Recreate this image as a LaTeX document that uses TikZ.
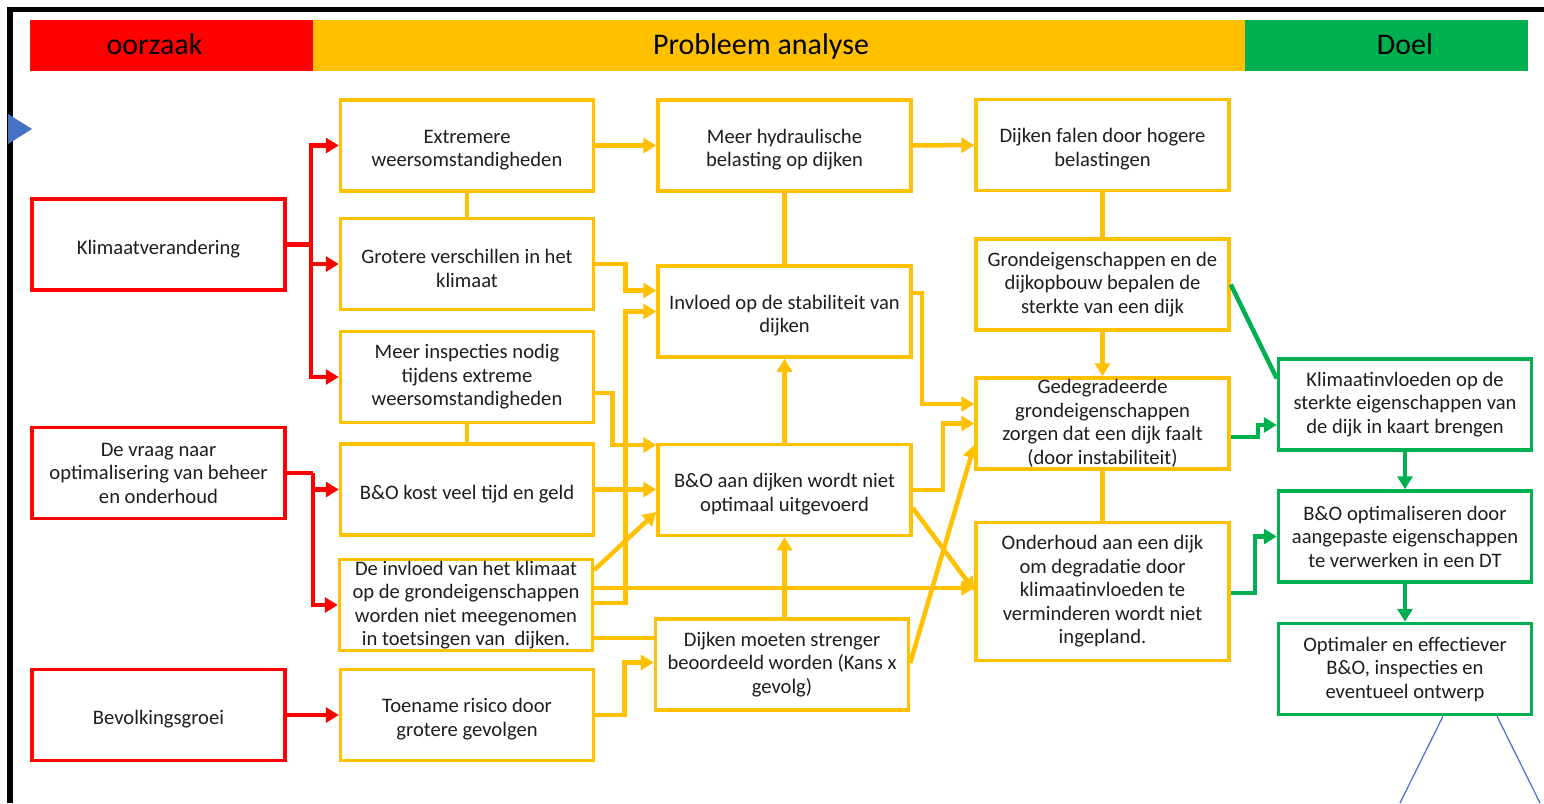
\documentclass[tikz,border=0pt]{standalone}
\usepackage{fontspec}
\setmainfont{Carlito}
\usetikzlibrary{arrows.meta}
\definecolor{oorzaakRed}{RGB}{255,0,0}
\definecolor{probleemYellow}{RGB}{255,192,0}
\definecolor{doelGreen}{RGB}{0,176,80}
\definecolor{pijlBlue}{RGB}{68,114,196}
\definecolor{tekstGrey}{RGB}{30,30,30}
\newcommand{\hoog}{\rule{0pt}{23pt}}

\begin{document}
\begin{tikzpicture}[x=1pt, y=-1pt, >={Triangle[length=13pt,width=15pt]}]
            \tikzstyle{blok} = [rectangle, draw, fill=white, line width=3.5pt, minimum width=253pt, minimum height=91pt, inner sep=0pt, align=center, text=tekstGrey, font=\fontsize{20.6}{23.5}\selectfont]
            \tikzstyle{oorzaakbox} = [blok, draw=oorzaakRed]
            \tikzstyle{probbox} = [blok, draw=probleemYellow]
            \tikzstyle{doelbox} = [blok, draw=doelGreen]
            \tikzstyle{kop} = [anchor=base, inner sep=0pt, font=\fontsize{30}{36}\selectfont]
            \tikzstyle{redline} = [line width=4.5pt, oorzaakRed]
            \tikzstyle{yellowline} = [line width=4.5pt, probleemYellow]
            \tikzstyle{greenline} = [line width=4.5pt, doelGreen]

            \useasboundingbox (0,0) rectangle (1544,803);

            % kader en kopbalk
            \draw[line width=5.5pt] (1544,9.5) -- (10,9.5) -- (10,803);
            \fill[pijlBlue] (8,114) -- (32,129) -- (8,144) -- cycle;
            \fill[oorzaakRed] (30,20) rectangle (313,71);
            \fill[probleemYellow] (313,20) rectangle (1245,71);
            \fill[doelGreen] (1245,20) rectangle (1528,71);
            \node[kop] (oorzaak) at (154.5,54) {oorzaak};
            \node[kop] (probleem) at (761,54) {Probleem analyse};
            \node[kop] (doel) at (1405,54) {Doel};

            % oorzaken
            \node[oorzaakbox] (klim) at (158.5,244.5) {\hoog Klimaatverandering};
            \node[oorzaakbox] (vraag) at (158.5,473) {De vraag naar\\optimalisering van beheer\\en onderhoud};
            \node[oorzaakbox] (bevo) at (158.5,715) {\hoog Bevolkingsgroei};

            % probleem analyse
            \node[probbox] (extr) at (467,145.5) {\hoog Extremere\\weersomstandigheden};
            \node[probbox] (grot) at (467,264) {\hoog Grotere verschillen in het\\klimaat};
            \node[probbox] (meer) at (467,377) {Meer inspecties nodig\\tijdens extreme\\weersomstandigheden};
            \node[probbox] (kost) at (467,489.5) {\hoog B\&O kost veel tijd en geld};
            \node[probbox] (invk) at (466,605) {De invloed van het klimaat\\op de grondeigenschappen\\worden niet meegenomen\\in toetsingen van\ \ dijken.};
            \node[probbox] (toen) at (467,715) {\hoog Toename risico door\\grotere gevolgen};

            \node[probbox] (hydr) at (784.5,145.5) {\hoog Meer hydraulische\\belasting op dijken};
            \node[probbox] (stab) at (784.5,311.5) {\hoog Invloed op de stabiliteit van\\dijken};
            \node[probbox] (bo) at (784.5,490) {\hoog B\&O aan dijken wordt niet\\optimaal uitgevoerd};
            \node[probbox] (stre) at (782,664.5) {Dijken moeten strenger\\beoordeeld worden (Kans x\\gevolg)};

            \node[probbox] (fale) at (1102.5,145) {\hoog Dijken falen door hogere\\belastingen};
            \node[probbox] (gron) at (1102.5,284.5) {Grondeigenschappen en de\\dijkopbouw bepalen de\\sterkte van een dijk};
            \node[probbox] (gede) at (1102.5,423.5) {Gedegradeerde\\grondeigenschappen\\zorgen dat een dijk faalt\\(door instabiliteit)};
            \node[probbox, minimum height=138pt] (onde) at (1102.5,591.5) {Onderhoud aan een dijk\\om degradatie door\\klimaatinvloeden te\\verminderen wordt niet\\ingepland.};

            % doel
            \node[doelbox] (kaar) at (1405,404.5) {Klimaatinvloeden op de\\sterkte eigenschappen van\\de dijk in kaart brengen};
            \node[doelbox] (opti) at (1405,536.5) {B\&O optimaliseren door\\aangepaste eigenschappen\\te verwerken in een DT};
            \node[doelbox] (effe) at (1405,669) {Optimaler en effectiever\\B\&O, inspecties en\\eventueel ontwerp};
            \coordinate (vrijL) at (1400,803);
            \coordinate (vrijR) at (1540,803);

            % rode pijlen
            \draw[redline] (klim.east) -- ++(24,0) coordinate (klimtak);
            \draw[->, redline] (klimtak) |- (extr.west);
            \draw[->, redline] (klimtak) |- (grot.west);
            \draw[->, redline] (klimtak) |- (meer.west);
            \draw[redline] (vraag.east) -- ++(26,0) coordinate (vraagtak);
            \draw[->, redline] (vraagtak) |- (kost.west);
            \draw[->, redline] (vraagtak) |- (invk.west);
            \draw[->, redline] (bevo) -- (toen);

            % gele pijlen
            \draw[yellowline] (extr) -- (grot);
            \draw[yellowline] (meer) -- (kost);
            \draw[yellowline] (hydr) -- (stab);
            \draw[yellowline] (fale) -- (gron);
            \draw[yellowline] (gede) -- (onde);
            \draw[->, yellowline] (extr) -- (hydr);
            \draw[->, yellowline] (hydr) -- (fale);
            \draw[->, yellowline] (gron) -- (gede);
            \draw[->, yellowline] (grot.east) -- ++(30,0) |- ([yshift=21]stab.west);
            \draw[->, yellowline] ([yshift=2]invk.east) -- ++(31,0) |- (stab.west);
            \draw[->, yellowline] ([yshift=-16]meer.east) -- ++(17,0) |- ([yshift=45]bo.west);
            \draw[->, yellowline] (kost.east) -- (kost.east -| bo.west);
            \draw[->, yellowline] ([yshift=35]invk.east) -- ([yshift=-22]bo.west);
            \draw[yellowline] ([yshift=-33]invk.east) -- ([yshift=-33]invk.east -| stre.west);
            \draw[->, yellowline] (toen.east) -- ++(29,0) |- ([yshift=2]stre.west);
            \draw[->, yellowline] ([yshift=17]invk.east) -- ([yshift=17]invk.east -| onde.west);
            \draw[->, yellowline] (stre.north -| bo.south) -- (bo.south);
            \draw[->, yellowline] (bo) -- (stab);
            \draw[->, yellowline] ([yshift=18.5]stab.east) -- ++(9,0) |- ([yshift=19.5]gede.west);
            \draw[->, yellowline] (bo.east) -- ++(30,0) |- (gede.west);
            \draw[->, yellowline] ([yshift=-18]bo.east) -- ([yshift=1]onde.west);
            \draw[->, yellowline] ([yshift=1.5]stre.east) -- ([yshift=-21.5]gede.west);

            % groene pijlen
            \draw[greenline] (gron.east) -- ([yshift=26]kaar.west);
            \draw[->, greenline] ([yshift=-13.5]gede.east) -- ++(27,0) |- ([yshift=-20.5]kaar.west);
            \draw[->, greenline] ([yshift=-1.5]onde.east) -- ++(24,0) |- (opti.west);
            \draw[->, greenline] (kaar) -- (opti);
            \draw[->, greenline] (opti) -- (effe);

            % blauwe lijnen
            \draw[pijlBlue, line width=1.2pt] ([xshift=38]effe.south) -- (vrijL);
            \draw[pijlBlue, line width=1.2pt] ([xshift=92]effe.south) -- (vrijR);
        \end{tikzpicture}
\end{document}
